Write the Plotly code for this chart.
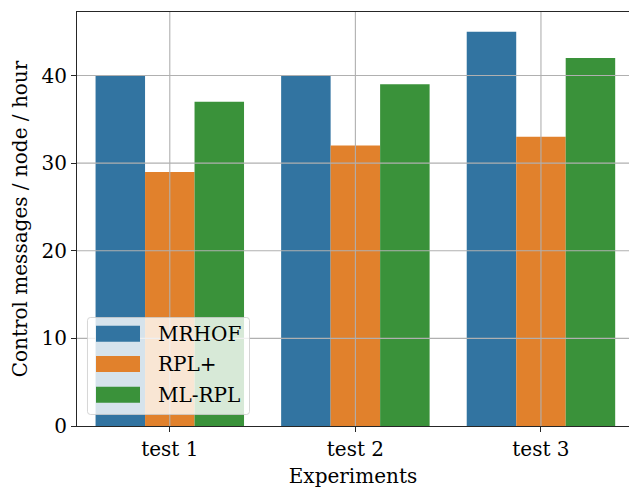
import plotly.graph_objects as go

categories = ["test 1", "test 2", "test 3"]
series_names = ["MRHOF", "RPL+", "ML-RPL"]
mrhof = [40, 40, 45]
rpl_plus = [29, 32, 33]
ml_rpl = [37, 39, 42]
y_ticks = [0, 10, 20, 30, 40]

values = [mrhof, rpl_plus, ml_rpl]
colors = ["#3274a1", "#e1812c", "#3a923a"]

FONT = "DejaVu Serif"
FS = 20
W, H = 629, 488
L, T, B = 77, 12, 62
PW, PH = W - L, H - T - B

def px2x(px):
    return (px - L) / PW

def py2y(py):
    return (H - B - py) / PH

xpos = list(range(len(categories)))

fig = go.Figure()
for name, vals, col in zip(series_names, values, colors):
    fig.add_trace(go.Bar(x=xpos, y=vals, name=name, marker_color=col,
                         marker_line_width=0, showlegend=False))

shapes = []
# gridlines above bars
for yv in y_ticks[1:]:
    shapes.append(dict(type="line", xref="paper", yref="y", x0=0, x1=1, y0=yv, y1=yv,
                       line=dict(color="#b0b0b0", width=1.1), layer="above"))
for xv in xpos:
    shapes.append(dict(type="line", xref="x", yref="paper", x0=xv, x1=xv, y0=0, y1=1,
                       line=dict(color="#b0b0b0", width=1.1), layer="above"))

# custom legend box (rounded)
bx0, bx1, by0, by1 = 87.5, 249.5, 317.5, 414.5
r = 3
def P(px, py):
    return f"{px2x(px):.5f},{py2y(py):.5f}"
path = (f"M{P(bx0 + r, by0)} L{P(bx1 - r, by0)} Q{P(bx1, by0)} {P(bx1, by0 + r)} "
        f"L{P(bx1, by1 - r)} Q{P(bx1, by1)} {P(bx1 - r, by1)} "
        f"L{P(bx0 + r, by1)} Q{P(bx0, by1)} {P(bx0, by1 - r)} "
        f"L{P(bx0, by0 + r)} Q{P(bx0, by0)} {P(bx0 + r, by0)} Z")
shapes.append(dict(type="path", xref="paper", yref="paper", path=path,
                   fillcolor="rgba(255,255,255,0.8)", line=dict(color="rgba(204,204,204,0.8)", width=1),
                   layer="above"))
annotations = []
row_centers = [333.7, 364.0, 394.7]
for name, col, cy in zip(series_names, colors, row_centers):
    shapes.append(dict(type="rect", xref="paper", yref="paper",
                       x0=px2x(96), x1=px2x(140), y0=py2y(cy + 8), y1=py2y(cy - 8),
                       fillcolor=col, line=dict(width=0), layer="above"))
    annotations.append(dict(xref="paper", yref="paper", x=px2x(156), y=py2y(cy),
                            xanchor="left", yanchor="middle", text=name, showarrow=False,
                            font=dict(family=FONT, size=FS, color="black")))

fig.update_layout(
    width=W, height=H,
    margin=dict(l=L, r=0, t=T, b=B, autoexpand=False),
    paper_bgcolor="white", plot_bgcolor="white",
    barmode="group", bargap=0.2, bargroupgap=0,
    font=dict(family=FONT, size=FS, color="black"),
    shapes=shapes, annotations=annotations,
    xaxis=dict(range=[-0.5, 2 + (629 - 541) / 185.5], tickvals=xpos, ticktext=categories,
               showgrid=False, zeroline=False, showline=True, linecolor="#262626", linewidth=1.1,
               mirror=True, ticks="outside", ticklen=5, tickwidth=1.1, tickcolor="#262626",
               layer="above traces",
               title=dict(text="Experiments", standoff=8, font=dict(family=FONT, size=FS))),
    yaxis=dict(range=[0, 47.25], tickvals=y_ticks, showgrid=False, zeroline=False,
               showline=True, linecolor="#262626", linewidth=1.1, mirror=False,
               ticks="outside", ticklen=5, tickwidth=1.1, tickcolor="#262626",
               layer="above traces",
               title=dict(text="Control messages / node / hour", standoff=8,
                          font=dict(family=FONT, size=FS))),
)

fig.write_html("out.html")
